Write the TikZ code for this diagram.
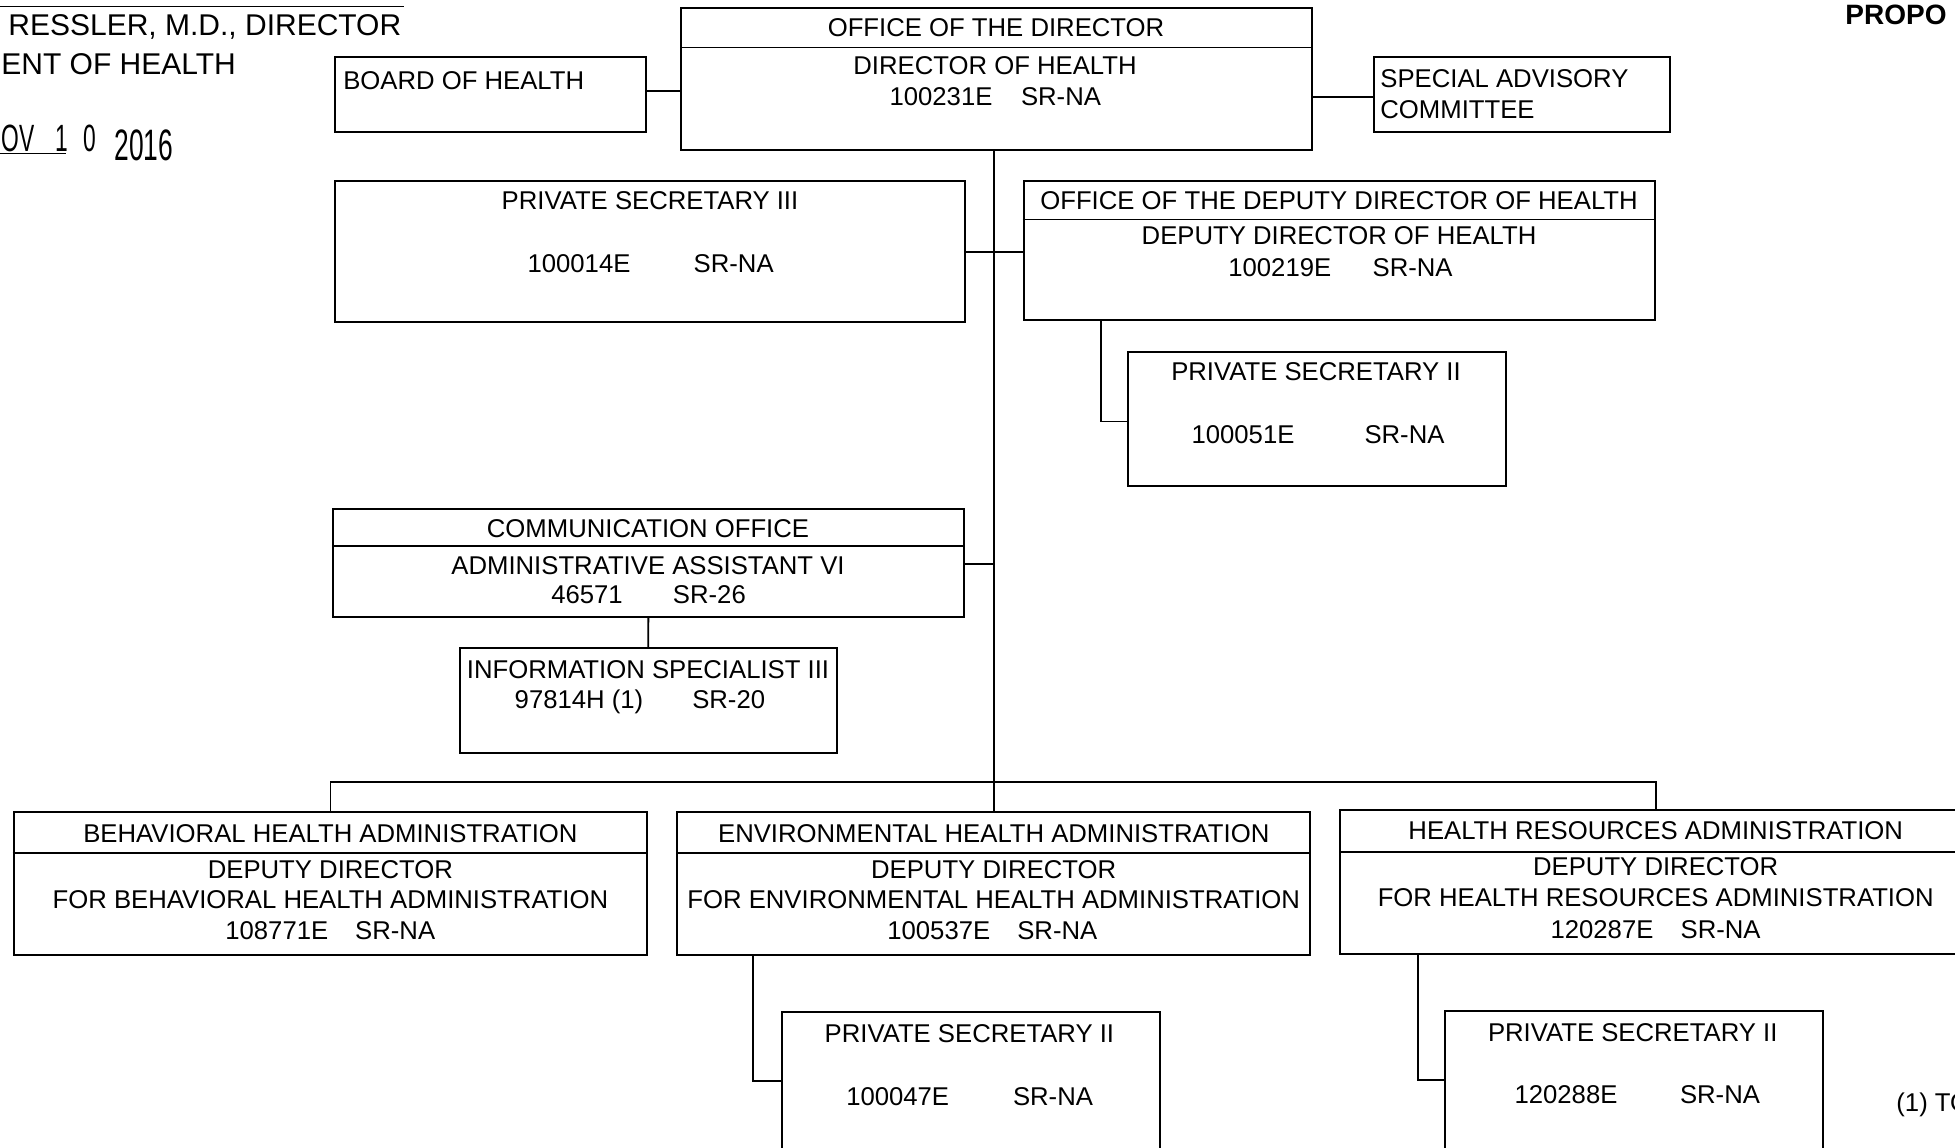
\documentclass[tikz,border=0pt]{standalone}
\usepackage{fontspec}
\setmainfont{Liberation Sans}
\newfontfamily\stampfont[FakeStretch=0.6]{Liberation Sans}
\usetikzlibrary{fit}
\begin{document}
\begin{tikzpicture}[x=0.5pt,y=-0.5pt,
  box/.style={draw, line width=1pt, inner sep=0pt},
  divline/.style={line width=0.9pt},
  conn/.style={line width=0.9pt},
  lbl/.style={inner sep=0pt, font=\fontsize{12.85}{15}\selectfont, text height=9.2pt, text depth=0pt},
  hdr/.style={inner sep=0pt, font=\fontsize{15}{18}\selectfont, text height=10.8pt, text depth=0pt},
  stamp/.style={inner sep=0pt, anchor=base, font=\stampfont}]
\useasboundingbox (0,0) rectangle (1955,1147);
\clip (0,0) rectangle (1955,1147);
\fill[white] (0,0) rectangle (1955,1147);

% ---------- boxes ----------
\node[box, fit={(681,7.5) (1311.6,149.6)}] (dir) {};
\node[box, fit={(335.4,57.4) (645.8,132.2)}] (board) {};
\node[box, fit={(1374,57.4) (1669.5,132.2)}] (spec) {};
\node[box, fit={(335.4,180.8) (965,321.7)}] (ps3) {};
\node[box, fit={(1023.6,180.8) (1654.5,320.4)}] (dep) {};
\node[box, fit={(1128.4,351.6) (1506.1,486.3)}] (ps2a) {};
\node[box, fit={(332.9,508.7) (963.8,617.2)}] (comm) {};
\node[box, fit={(460,648.3) (836.6,753)}] (info) {};
\node[box, fit={(13.7,811.7) (647.1,955)}] (beh) {};
\node[box, fit={(677,811.7) (1310.4,955)}] (env) {};
\node[box, fit={(1340.3,810.4) (1971,953.8)}] (hr) {};
\node[box, fit={(781.7,1012.4) (1159.5,1165)}] (ps2b) {};
\node[box, fit={(1445,1011.2) (1822.8,1165)}] (ps2c) {};

% ---------- dividers ----------
\draw[divline] (dir.west |- 0,47.4) -- (dir.east |- 0,47.4);
\draw[divline] (dep.west |- 0,219.4) -- (dep.east |- 0,219.4);
\draw[divline] (comm.west |- 0,546.1) -- (comm.east |- 0,546.1);
\draw[divline] (beh.west |- 0,852.8) -- (beh.east |- 0,852.8);
\draw[divline] (env.west |- 0,852.8) -- (env.east |- 0,852.8);
\draw[divline] (hr.west |- 0,851.6) -- (hr.east |- 0,851.6);

% ---------- connectors ----------
\coordinate (bus) at (993.7,781.7);
\draw[conn] (board.east |- 0,91) -- (dir.west |- 0,91);
\draw[conn] (dir.east |- 0,97.3) -- (spec.west |- 0,97.3);
\draw[conn] (dir.south -| bus) -- (bus);
\draw[conn] (ps3.east |- 0,251.9) -- (dep.west |- 0,251.9);
\draw[conn] (dep.south -| 1100.9,0) |- (ps2a.west |- 0,421.4);
\draw[conn] (comm.east |- 0,563.6) -- (bus |- 0,563.6);
\draw[conn] (comm.south) -- (info.north);
\draw[conn] (beh.north) |- (bus) -| (hr.north);
\draw[conn] (bus) -- (env.north);
\draw[conn] (env.south -| 753,0) |- (ps2b.west |- 0,1081);
\draw[conn] (hr.south -| 1417.6,0) |- (ps2c.west |- 0,1079.7);

% ---------- box texts ----------
\node[lbl] (t1) at (996,27.4) {OFFICE OF THE DIRECTOR};
\node[lbl] (t2) at (995,64.8) {DIRECTOR OF HEALTH};
\node[lbl] (t3) at (941,96) {100231E};
\node[lbl] (t4) at (1061,96) {SR-NA};

\node[lbl, anchor=west] (t5) at (342.9,79.8) {BOARD OF HEALTH};
\node[lbl, anchor=west] (t6) at (1380,78.5) {SPECIAL ADVISORY};
\node[lbl, anchor=west] (t7) at (1380,109.7) {COMMITTEE};

\node[lbl] (t8) at (650,200.7) {PRIVATE SECRETARY III};
\node[lbl] (t9) at (579,263) {100014E};
\node[lbl] (t10) at (733.7,263) {SR-NA};

\node[lbl] (t11) at (1339,200.7) {OFFICE OF THE DEPUTY DIRECTOR OF HEALTH};
\node[lbl] (t12) at (1339,235.6) {DEPUTY DIRECTOR OF HEALTH};
\node[lbl] (t13) at (1279.8,266.8) {100219E};
\node[lbl] (t14) at (1412.6,266.8) {SR-NA};

\node[lbl] (t15) at (1316,371.5) {PRIVATE SECRETARY II};
\node[lbl] (t16) at (1243,433.9) {100051E};
\node[lbl] (t17) at (1404.5,433.9) {SR-NA};

\node[lbl] (t18) at (648,528.6) {COMMUNICATION OFFICE};
\node[lbl] (t19) at (648,564.8) {ADMINISTRATIVE ASSISTANT VI};
\node[lbl] (t20) at (587,594.7) {46571};
\node[lbl] (t21) at (709.4,594.7) {SR-26};

\node[lbl] (t22) at (648,669.5) {INFORMATION SPECIALIST III};
\node[lbl] (t23) at (579,699.5) {97814H (1)};
\node[lbl] (t24) at (728.7,699.5) {SR-20};

\node[lbl] (t25) at (330.4,832.9) {BEHAVIORAL HEALTH ADMINISTRATION};
\node[lbl] (t26) at (330.4,869) {DEPUTY DIRECTOR};
\node[lbl] (t27) at (330.4,899) {FOR BEHAVIORAL HEALTH ADMINISTRATION};
\node[lbl] (t28) at (276.8,930.1) {108771E};
\node[lbl] (t29) at (395.2,930.1) {SR-NA};

\node[lbl] (t30) at (993.7,832.9) {ENVIRONMENTAL HEALTH ADMINISTRATION};
\node[lbl] (t31) at (993.7,869) {DEPUTY DIRECTOR};
\node[lbl] (t32) at (993.7,899) {FOR ENVIRONMENTAL HEALTH ADMINISTRATION};
\node[lbl] (t33) at (938.8,930.1) {100537E};
\node[lbl] (t34) at (1057.3,930.1) {SR-NA};

\node[lbl] (t35) at (1655.7,830.4) {HEALTH RESOURCES ADMINISTRATION};
\node[lbl] (t36) at (1655.7,866.5) {DEPUTY DIRECTOR};
\node[lbl] (t37) at (1655.7,897.7) {FOR HEALTH RESOURCES ADMINISTRATION};
\node[lbl] (t38) at (1602,928.9) {120287E};
\node[lbl] (t39) at (1720.6,928.9) {SR-NA};

\node[lbl] (t40) at (969.4,1033.6) {PRIVATE SECRETARY II};
\node[lbl] (t41) at (897.7,1096) {100047E};
\node[lbl] (t42) at (1053,1096) {SR-NA};

\node[lbl] (t43) at (1632.7,1032.3) {PRIVATE SECRETARY II};
\node[lbl] (t44) at (1566,1094.7) {120288E};
\node[lbl] (t45) at (1720,1094.7) {SR-NA};

% ---------- page texts ----------
\coordinate (sigL) at (0,6.5);
\coordinate (sigR) at (404,6.5);
\draw[line width=0.9pt] (sigL) -- (sigR);
\node[hdr, anchor=west] (h1) at (8,25) {RESSLER, M.D., DIRECTOR};
\node[hdr, anchor=west] (h2) at (1,63.6) {ENT OF HEALTH};
\node[stamp, font=\stampfont\fontsize{19}{20}\selectfont] (s1) at (18,151) {OV};
\node[stamp, font=\stampfont\fontsize{19}{20}\selectfont] (s2) at (62,151) {1};
\node[stamp, font=\stampfont\fontsize{19}{20}\selectfont] (s3) at (90,151) {0};
\node[stamp, font=\stampfont\fontsize{22}{24}\selectfont] (s4) at (144,160) {2016};
\coordinate (ulL) at (0,153.5);
\coordinate (ulR) at (66,153.5);
\draw[line width=0.9pt] (ulL) -- (ulR);
\node[inner sep=0pt, anchor=west, font=\bfseries\fontsize{14}{16}\selectfont] (p1) at (1845,15) {PROPO};
\node[lbl, anchor=west] (n1) at (1896,1102) {(1) TO};
\end{tikzpicture}
\end{document}
